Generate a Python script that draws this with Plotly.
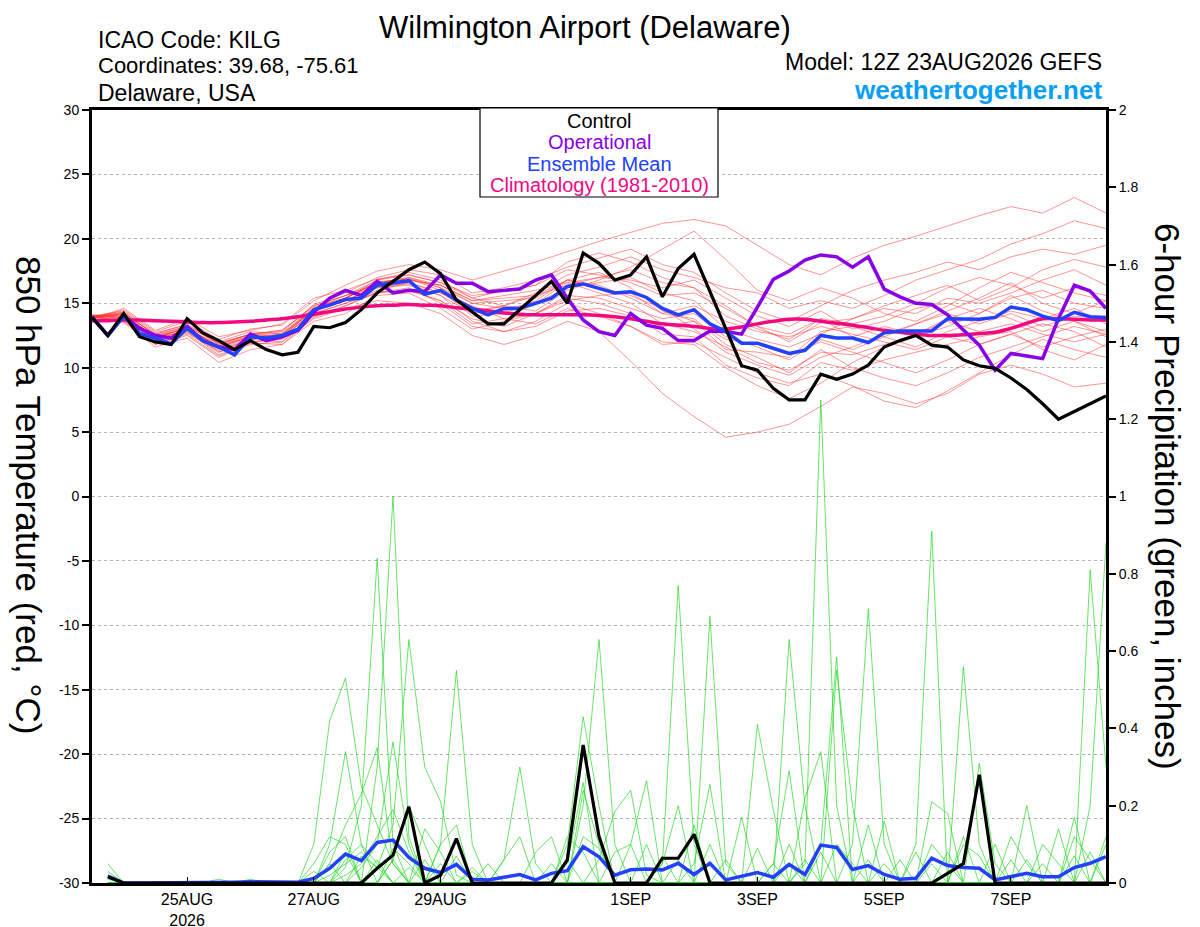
import pandas as pd
import plotly.graph_objects as go

# ---------------- DATA ----------------
base_time = "2026-08-23 12:00"
hours6 = list(range(0, 385, 6))        # temperature, 6-hourly
hours12 = list(range(0, 385, 12))      # ensemble members, 12-hourly
hours_p = list(range(6, 385, 6))       # 6-hour precip accumulations

control_t = [13.9, 12.5, 14.2, 12.4, 12.0, 11.8, 13.8, 12.7, 12.1, 11.4, 12.1, 11.4, 11.0, 11.2, 13.2, 13.1,
             13.5, 14.5, 15.8, 16.7, 17.6, 18.2, 17.3,
             15.25, 14.3, 13.4, 13.4, 14.5, 15.6, 16.7, 15.0, 18.9, 18.1, 16.8, 17.2, 18.6, 15.5, 17.7, 18.8,
             15.9, 13.0, 10.15, 9.8, 8.4, 7.5,
             7.5, 9.5, 9.1, 9.5, 10.2, 11.6, 12.1, 12.5, 11.75, 11.6, 10.6, 10.15, 9.95, 9.2, 8.3, 7.2, 6.0,
             6.6, 7.2, 7.8]

operational_t = [13.9, 12.5, 14.0, 13.05, 12.5, 12.3, 13.2, 12.1, 11.6, 11.4, 12.6, 12.1, 12.4, 12.9, 14.3,
                 15.4, 16.0, 15.6, 16.7, 15.8, 16.0, 15.9, 17.2,
                 16.55, 16.55, 15.9, 16.0, 16.1, 16.8, 17.2, 15.4, 13.7, 12.8, 12.5, 14.2, 13.3, 13.05, 12.1,
                 12.1, 12.85, 12.8, 12.6, 14.7, 16.85, 17.5,
                 18.35, 18.75, 18.6, 17.8, 18.6, 16.1, 15.5, 15.0, 14.9, 14.1, 12.9, 11.75, 9.8, 11.1, 10.9,
                 10.7, 13.8, 16.4, 15.95, 14.6]

mean_t = [13.95, 12.5, 14.0, 12.65, 12.3, 11.85, 13.05, 12.1, 11.6, 11.0, 12.4, 12.3, 12.5, 13.0, 14.5, 14.85,
          15.3, 15.4, 16.4, 16.6, 16.75, 15.7, 16.0,
          15.25, 14.6, 14.1, 14.6, 14.6, 15.0, 15.4, 16.3, 16.5, 16.15, 15.8, 15.9, 15.45, 14.6, 14.1, 14.5,
          13.4, 12.8, 11.9, 11.9, 11.5, 11.1,
          11.35, 12.5, 12.3, 12.3, 11.95, 12.7, 12.85, 12.85, 12.85, 13.8, 13.8, 13.75, 13.9, 14.7, 14.5,
          14.0, 13.65, 14.3, 13.95, 13.9]

climo_t = [13.65, 13.65, 13.7, 13.7, 13.65, 13.6, 13.55, 13.5, 13.5, 13.55, 13.6, 13.7, 13.8, 13.95, 14.15,
           14.35, 14.55, 14.7, 14.8, 14.85, 14.9,
           14.85, 14.8, 14.65, 14.55, 14.4, 14.25, 14.15, 14.1, 14.1, 14.1, 14.1, 14.05, 13.95, 13.8, 13.6,
           13.4, 13.3, 13.2, 13.05, 13.0, 13.15, 13.4, 13.6, 13.75,
           13.75, 13.6, 13.45, 13.3, 13.1, 12.9, 12.75, 12.6, 12.5, 12.5, 12.55, 12.65, 12.75, 13.05, 13.45,
           13.8, 13.8, 13.75, 13.7, 13.7]

members_t = [
    [13.8, 14.5, 12.8, 13.6, 12.2, 13.0, 13.3, 15.2, 16.4, 17.5, 18.0, 17.6, 16.8, 17.5, 18.2, 19.0, 19.8, 20.5, 21.2, 21.5, 21.0, 19.5, 18.0, 17.2, 18.5, 19.5, 20.2, 21.0, 21.8, 22.5, 22.0, 23.2, 22.0],
    [14.0, 13.6, 11.8, 12.5, 10.8, 11.8, 12.0, 13.8, 14.6, 15.2, 15.0, 14.2, 12.5, 11.8, 12.5, 13.6, 12.8, 10.5, 8.0, 6.2, 4.6, 5.0, 5.6, 7.0, 8.5, 8.0, 7.2, 8.0, 9.5, 10.2, 9.5, 8.5, 8.8],
    [13.9, 14.3, 12.5, 13.2, 11.9, 12.6, 12.8, 14.9, 15.8, 17.0, 17.6, 17.2, 15.8, 16.2, 16.8, 17.8, 18.5, 19.2, 18.0, 17.4, 15.8, 14.4, 13.6, 14.8, 16.0, 16.8, 17.4, 18.2, 17.6, 18.6, 19.2, 18.8, 19.5],
    [14.1, 13.8, 12.0, 12.7, 11.2, 12.0, 12.2, 14.0, 14.8, 15.8, 16.2, 15.0, 13.2, 12.8, 13.6, 15.0, 14.2, 13.2, 11.8, 12.0, 10.8, 9.6, 8.8, 9.5, 8.6, 7.4, 6.9, 8.2, 9.6, 11.0, 12.2, 11.4, 10.8],
    [13.8, 14.6, 12.9, 13.8, 12.4, 12.9, 13.4, 15.4, 16.0, 16.9, 17.2, 16.6, 15.6, 15.9, 16.4, 18.2, 18.9, 18.2, 17.0, 16.2, 14.8, 13.2, 12.0, 13.5, 13.8, 14.8, 15.6, 16.4, 15.2, 16.2, 17.6, 18.4, 17.8],
    [14.0, 13.5, 11.6, 12.3, 10.4, 11.4, 11.8, 13.6, 14.2, 15.6, 15.8, 14.6, 13.0, 13.6, 14.2, 15.4, 15.0, 14.2, 12.6, 12.4, 10.2, 9.2, 8.6, 10.4, 9.8, 10.6, 11.2, 11.8, 12.4, 12.8, 11.4, 10.6, 11.8],
    [13.9, 14.2, 12.6, 13.4, 11.8, 12.6, 12.9, 14.8, 15.6, 16.8, 17.4, 16.8, 15.4, 14.8, 14.4, 16.0, 16.8, 17.8, 19.2, 20.6, 18.4, 16.0, 15.2, 16.2, 15.4, 14.2, 13.6, 14.8, 16.2, 17.4, 16.6, 15.8, 15.2],
    [14.0, 14.0, 12.2, 12.9, 11.5, 12.3, 12.3, 14.3, 15.4, 16.6, 16.9, 16.0, 14.0, 14.2, 15.2, 16.8, 17.4, 16.2, 14.4, 13.6, 11.4, 11.2, 10.8, 12.8, 13.2, 12.4, 11.6, 12.8, 13.6, 14.4, 13.8, 14.6, 13.4],
    [13.9, 13.7, 11.9, 12.6, 10.9, 11.9, 12.4, 14.2, 15.0, 16.0, 16.6, 15.8, 14.8, 13.8, 13.4, 14.6, 14.0, 13.2, 12.0, 11.8, 10.0, 8.6, 7.6, 8.8, 10.4, 11.6, 12.6, 13.6, 12.8, 13.4, 12.6, 12.0, 12.6],
    [14.0, 14.4, 12.7, 13.3, 12.0, 12.8, 12.6, 14.6, 15.6, 16.2, 16.4, 15.6, 14.2, 14.8, 15.8, 17.2, 17.8, 18.6, 17.6, 17.0, 16.2, 15.8, 14.6, 15.2, 14.6, 15.6, 16.8, 17.6, 18.4, 19.6, 20.4, 21.4, 20.8],
    [13.9, 14.1, 12.4, 12.8, 11.3, 12.2, 12.5, 14.4, 15.2, 16.4, 16.8, 16.4, 15.2, 15.6, 16.0, 16.6, 15.8, 15.0, 13.4, 12.8, 11.6, 10.4, 9.8, 11.2, 11.0, 11.8, 12.4, 13.2, 14.2, 15.6, 14.4, 13.6, 12.4],
    [14.1, 13.9, 12.1, 13.0, 11.7, 12.5, 12.7, 14.7, 15.4, 16.6, 17.0, 16.2, 14.6, 14.4, 15.0, 16.2, 16.6, 17.0, 15.8, 15.2, 13.0, 12.2, 11.6, 12.6, 13.8, 14.6, 14.2, 15.4, 15.0, 15.8, 16.8, 17.6, 16.4],
    [13.8, 14.2, 12.3, 13.1, 11.6, 12.4, 12.3, 14.4, 15.2, 16.3, 16.5, 15.6, 13.6, 12.8, 13.2, 14.4, 14.6, 14.0, 13.2, 13.6, 12.2, 11.8, 11.0, 12.0, 11.2, 10.4, 9.6, 10.6, 11.8, 12.6, 13.4, 12.8, 11.6],
    [14.0, 14.0, 12.4, 13.0, 11.8, 12.6, 12.4, 14.6, 15.4, 16.8, 17.2, 16.6, 15.4, 16.0, 16.4, 17.6, 17.2, 16.6, 15.6, 15.8, 14.6, 13.2, 12.6, 13.8, 13.4, 14.0, 15.0, 16.2, 17.0, 16.4, 15.4, 16.2, 15.6],
    [13.9, 13.8, 12.2, 13.2, 11.4, 12.2, 12.0, 14.2, 15.0, 15.8, 16.0, 15.2, 13.8, 13.2, 14.2, 15.2, 15.6, 15.8, 14.2, 14.8, 13.6, 12.8, 12.4, 13.2, 12.6, 12.0, 11.4, 12.4, 11.8, 12.6, 11.6, 12.4, 13.0],
    [14.0, 14.2, 12.6, 13.2, 11.9, 12.6, 12.9, 14.8, 15.6, 16.6, 16.8, 16.4, 15.0, 14.6, 15.0, 16.6, 17.0, 16.8, 16.2, 16.8, 15.4, 14.0, 13.2, 14.4, 13.0, 13.6, 14.6, 15.0, 14.2, 15.4, 16.0, 15.0, 14.6],
    [13.9, 13.9, 12.0, 13.0, 11.2, 12.2, 12.6, 14.4, 15.2, 16.2, 16.6, 15.8, 14.4, 14.8, 15.6, 16.8, 16.2, 15.6, 14.6, 13.0, 11.2, 10.2, 9.4, 10.8, 11.6, 12.6, 13.4, 14.4, 15.4, 16.6, 15.0, 14.2, 15.2],
    [14.0, 14.3, 12.5, 13.0, 11.7, 12.4, 12.5, 14.5, 15.4, 16.6, 17.0, 16.4, 15.2, 15.4, 15.6, 16.4, 17.0, 17.6, 16.6, 16.2, 14.0, 13.0, 12.2, 13.8, 12.4, 13.2, 12.6, 13.8, 14.6, 13.8, 12.8, 13.6, 12.8],
    [13.9, 13.6, 11.8, 12.8, 11.0, 11.9, 11.8, 13.9, 14.8, 15.9, 16.0, 15.2, 13.4, 13.8, 14.2, 15.6, 15.4, 14.6, 13.8, 14.2, 12.4, 11.6, 10.6, 12.2, 11.4, 12.4, 13.4, 14.2, 13.4, 14.2, 13.2, 14.0, 13.8],
    [14.0, 14.1, 12.4, 13.1, 11.6, 12.4, 12.6, 14.6, 15.4, 16.6, 16.9, 16.2, 15.0, 15.2, 15.4, 16.8, 16.4, 15.4, 14.2, 13.8, 11.8, 10.8, 9.6, 11.4, 10.0, 9.2, 8.6, 9.6, 10.8, 11.6, 12.4, 13.2, 12.6],
]

control_p = [0.016, 0, 0, 0, 0, 0, 0, 0,
             0, 0, 0, 0, 0, 0, 0, 0,
             0, 0.038, 0.072, 0.197, 0, 0.02, 0.115, 0,
             0, 0, 0, 0, 0, 0.06, 0.357, 0.12,
             0, 0, 0, 0.064, 0.064, 0.126, 0, 0,
             0, 0, 0, 0, 0, 0, 0, 0,
             0, 0, 0, 0, 0, 0.025, 0.05, 0.28,
             0, 0, 0, 0, 0, 0, 0, 0]

mean_p = [0.018, 0, 0, 0, 0, 0, 0, 0.002,
          0.002, 0.003, 0.002, 0.001, 0.002, 0.012, 0.038, 0.075,
          0.058, 0.105, 0.111, 0.066, 0.038, 0.027, 0.048, 0.01,
          0.008, 0.015, 0.022, 0.008, 0.025, 0.032, 0.094, 0.068,
          0.02, 0.034, 0.036, 0.034, 0.051, 0.022, 0.051, 0.008,
          0.017, 0.027, 0.015, 0.048, 0.022, 0.098, 0.092, 0.035,
          0.045, 0.022, 0.01, 0.012, 0.064, 0.045, 0.04, 0.038,
          0.008, 0.016, 0.025, 0.016, 0.016, 0.04, 0.051, 0.068]

members_p = [
    [0.05, 0, 0, 0, 0, 0, 0, 0,  0, 0, 0, 0, 0, 0.10, 0.42, 0.53,  0.25, 0.15, 0.05, 0, 0, 0, 0, 0,
     0, 0, 0, 0, 0, 0.10, 0.43, 0.20,  0, 0, 0, 0, 0, 0, 0, 0,  0, 0, 0, 0.63, 0.20, 0, 0, 0,
     0, 0, 0, 0, 0, 0, 0.56, 0.10,  0, 0, 0, 0, 0, 0, 0.81, 0.30],
    [0.03, 0, 0, 0, 0, 0, 0, 0,  0, 0, 0, 0, 0, 0, 0, 0,  0, 0.30, 1.00, 0.12, 0, 0, 0, 0,
     0, 0, 0, 0, 0, 0, 0, 0,  0, 0, 0, 0.05, 0.77, 0.10, 0, 0,  0, 0, 0, 0, 0.05, 1.25, 0.20, 0,
     0, 0, 0, 0, 0.10, 0.05, 0, 0,  0, 0, 0, 0, 0, 0, 0.20, 0.88],
    [0.02, 0, 0, 0, 0, 0, 0, 0,  0, 0, 0, 0, 0, 0, 0, 0.04,  0.20, 0.84, 0.10, 0, 0, 0, 0, 0,
     0, 0, 0, 0, 0, 0, 0.20, 0.63,  0.10, 0, 0, 0, 0, 0, 0.69, 0.05,  0, 0, 0, 0, 0, 0, 0, 0.10,
     0.71, 0.10, 0, 0, 0, 0, 0, 0,  0, 0, 0, 0, 0, 0.17, 0, 0],
    [0, 0, 0, 0, 0, 0, 0, 0,  0, 0, 0, 0, 0, 0, 0.02, 0.05,  0.08, 0.04, 0.15, 0.63, 0.30, 0.21, 0.02, 0,
     0, 0.06, 0.30, 0.05, 0, 0, 0, 0,  0, 0, 0, 0, 0, 0, 0, 0,  0, 0.41, 0.19, 0, 0, 0, 0, 0,
     0, 0, 0, 0.10, 0.91, 0, 0, 0,  0, 0, 0.20, 0, 0, 0, 0, 0],
    [0.01, 0, 0, 0, 0, 0, 0, 0,  0, 0, 0, 0, 0, 0, 0.10, 0.34,  0.10, 0, 0, 0, 0, 0.10, 0.55, 0.10,
     0, 0, 0, 0, 0, 0, 0, 0,  0, 0.10, 0.265, 0, 0, 0, 0, 0,  0, 0, 0, 0, 0, 0.10, 0.585, 0,
     0, 0, 0, 0, 0, 0, 0, 0.31,  0.05, 0, 0, 0, 0, 0, 0, 0],
    [0, 0, 0, 0, 0, 0, 0, 0,  0, 0, 0, 0, 0, 0, 0, 0,  0.04, 0.10, 0.365, 0.10, 0, 0, 0, 0,
     0, 0, 0, 0, 0, 0, 0, 0.06,  0.185, 0.24, 0.02, 0, 0, 0, 0, 0,  0, 0, 0.05, 0.29, 0, 0, 0.55, 0.20,
     0, 0, 0, 0, 0, 0, 0, 0,  0, 0.12, 0.05, 0, 0, 0, 0, 0],
    [0, 0, 0, 0, 0, 0, 0, 0,  0, 0, 0, 0, 0, 0, 0.05, 0.15,  0.23, 0.35, 0.05, 0, 0, 0, 0, 0,
     0, 0, 0, 0, 0, 0.05, 0.26, 0,  0, 0, 0, 0, 0, 0.05, 0.255, 0,  0, 0, 0, 0, 0.22, 0.34, 0, 0,
     0, 0, 0, 0, 0, 0, 0, 0,  0, 0, 0, 0.10, 0.05, 0, 0, 0],
    [0, 0, 0, 0, 0, 0, 0, 0,  0, 0, 0, 0, 0, 0.05, 0.12, 0.10,  0, 0, 0.06, 0.20, 0.10, 0, 0, 0,
     0, 0, 0, 0, 0, 0, 0.24, 0.10,  0, 0, 0, 0.05, 0.20, 0, 0, 0,  0.17, 0, 0, 0, 0, 0, 0, 0,
     0, 0.16, 0, 0, 0.21, 0.18, 0, 0,  0, 0, 0, 0, 0, 0, 0, 0],
    [0, 0, 0, 0, 0, 0, 0, 0,  0, 0, 0, 0, 0, 0, 0, 0.02,  0.05, 0.12, 0.19, 0.08, 0, 0.10, 0.15, 0,
     0, 0, 0, 0.08, 0.12, 0, 0, 0,  0, 0, 0.10, 0, 0, 0, 0, 0,  0, 0, 0, 0.10, 0, 0, 0, 0,
     0.15, 0, 0, 0, 0, 0, 0.12, 0,  0, 0, 0, 0, 0, 0.12, 0.06, 0],
    [0, 0, 0, 0, 0, 0, 0, 0,  0, 0, 0, 0, 0, 0, 0, 0.06,  0.10, 0.05, 0, 0, 0.14, 0.08, 0, 0,
     0.05, 0, 0, 0, 0, 0.12, 0.08, 0,  0, 0, 0, 0, 0, 0.15, 0, 0,  0, 0, 0, 0, 0, 0.08, 0, 0,
     0, 0, 0.06, 0, 0, 0, 0, 0,  0.10, 0, 0, 0, 0.14, 0, 0, 0],
    [0, 0, 0, 0, 0, 0, 0, 0,  0, 0, 0, 0, 0, 0, 0.08, 0.12,  0, 0, 0.09, 0.05, 0, 0, 0, 0,
     0, 0.06, 0.12, 0, 0, 0, 0, 0,  0.08, 0.10, 0, 0, 0, 0, 0, 0.06,  0, 0, 0, 0, 0, 0, 0.10, 0.05,
     0, 0, 0, 0.08, 0, 0, 0, 0,  0, 0.06, 0, 0, 0, 0, 0, 0.12],
    [0, 0, 0, 0, 0, 0, 0, 0,  0, 0, 0, 0, 0, 0, 0, 0,  0.07, 0.04, 0, 0, 0.06, 0, 0, 0.04,
     0, 0, 0, 0, 0.05, 0, 0, 0,  0, 0, 0, 0.07, 0, 0, 0, 0,  0, 0.09, 0, 0, 0.06, 0, 0, 0,
     0, 0.05, 0, 0, 0, 0.08, 0, 0,  0, 0, 0, 0.05, 0, 0.07, 0, 0],
    [0.02, 0, 0, 0, 0, 0, 0, 0,  0, 0.01, 0, 0, 0, 0, 0.05, 0,  0, 0, 0.06, 0, 0, 0, 0.07, 0,
     0, 0, 0, 0, 0, 0, 0.12, 0.09,  0, 0, 0, 0, 0, 0, 0.10, 0,  0, 0, 0.05, 0, 0, 0, 0, 0,
     0.06, 0, 0, 0, 0, 0, 0.10, 0.07,  0, 0, 0, 0, 0, 0, 0.08, 0],
    [0, 0, 0, 0, 0, 0, 0, 0.01,  0, 0, 0, 0, 0, 0.03, 0, 0.08,  0, 0.06, 0, 0.04, 0, 0.05, 0, 0.03,
     0, 0, 0, 0, 0, 0.06, 0, 0,  0, 0, 0, 0, 0.06, 0, 0, 0,  0, 0, 0, 0.05, 0, 0, 0, 0,
     0, 0, 0, 0, 0.05, 0, 0, 0,  0, 0, 0.06, 0, 0, 0, 0, 0.10],
]

temp_ticks = [30, 25, 20, 15, 10, 5, 0, -5, -10, -15, -20, -25, -30]
precip_ticks = [2, 1.8, 1.6, 1.4, 1.2, 1, 0.8, 0.6, 0.4, 0.2, 0]
precip_tick_text = ["2", "1.8", "1.6", "1.4", "1.2", "1", "0.8", "0.6", "0.4", "0.2", "0"]
date_ticks = ["2026-08-25", "2026-08-27", "2026-08-29", "2026-09-01", "2026-09-03", "2026-09-05", "2026-09-07"]
date_tick_text = ["25AUG<br>2026", "27AUG", "29AUG", "1SEP", "3SEP", "5SEP", "7SEP"]
legend_items = ["Control", "Operational", "Ensemble Mean", "Climatology (1981-2010)"]

# ---------------- FIGURE ----------------
t0 = pd.Timestamp(base_time)
def times(hrs):
    return [t0 + pd.Timedelta(hours=h) for h in hrs]

x6, x12, xp = times(hours6), times(hours12), times(hours_p)

FONT = "Liberation Sans, Arial, Helvetica, sans-serif"
RED = "rgba(255,50,50,0.65)"
GREEN = "rgba(30,215,30,0.85)"
PURPLE = "#8a00e6"
BLUE = "#2240ff"
PINK = "#f2087f"

fig = go.Figure()

for m in members_t:
    fig.add_trace(go.Scatter(x=x12, y=m, mode="lines", line=dict(color=RED, width=0.8),
                             hoverinfo="skip", yaxis="y"))
fig.add_trace(go.Scatter(x=x6, y=climo_t, mode="lines", line=dict(color=PINK, width=3.5, shape="spline"),
                         yaxis="y", name=legend_items[3]))
fig.add_trace(go.Scatter(x=x6, y=operational_t, mode="lines", line=dict(color=PURPLE, width=3.5),
                         yaxis="y", name=legend_items[1]))
fig.add_trace(go.Scatter(x=x6, y=mean_t, mode="lines", line=dict(color=BLUE, width=3.5),
                         yaxis="y", name=legend_items[2]))
fig.add_trace(go.Scatter(x=x6, y=control_t, mode="lines", line=dict(color="black", width=3.2),
                         yaxis="y", name=legend_items[0]))

for m in members_p:
    fig.add_trace(go.Scatter(x=xp, y=m, mode="lines", line=dict(color=GREEN, width=0.8),
                             hoverinfo="skip", yaxis="y2"))
fig.add_trace(go.Scatter(x=xp, y=mean_p, mode="lines", line=dict(color=BLUE, width=3.5), yaxis="y2"))
fig.add_trace(go.Scatter(x=xp, y=control_p, mode="lines", line=dict(color="black", width=3.2), yaxis="y2"))

# plot area in screen pixels (the page body adds an 8 px offset)
OFF = 8
L, R, T, B = 92, 1106, 110, 883
W, H = R - L, B - T
FIG_W, FIG_H = 1200, 927
def px(xp_):
    return (xp_ - L) / W
def py(yp_):
    return (B - yp_) / H

ann = []
def add_text(text, x, y, size, color="black", xanchor="left", yanchor="middle", angle=0, bold=False):
    if bold:
        text = "<b>" + text + "</b>"
    ann.append(dict(text=text, x=px(x), y=py(y), xref="paper", yref="paper", xanchor=xanchor,
                    yanchor=yanchor, showarrow=False, textangle=angle, borderpad=0,
                    font=dict(family=FONT, size=size, color=color)))

add_text("Wilmington Airport (Delaware)", 585, OFF + 1, 31, xanchor="center", yanchor="top")
add_text("ICAO Code: KILG", 97, 40, 23)
add_text("Coordinates: 39.68, -75.61", 97, 66, 22)
add_text("Delaware, USA", 97, 93, 23)
add_text("Model: 12Z 23AUG2026 GEFS", 1103, 62, 23, xanchor="right")
add_text("weathertogether.net", 1103, 90, 26, color="#0a9ef5", xanchor="right", bold=True)
add_text("850 hPa Temperature (red, °C)", 29, 495, 35, xanchor="center", angle=90)
add_text("6-hour Precipitation (green, inches)", 1168, 496, 35, xanchor="center", angle=90)

legend_colors = ["black", PURPLE, BLUE, PINK]
for k, (txt, col) in enumerate(zip(legend_items, legend_colors)):
    add_text(txt, 599, 121 + k * 21.3, 20, color=col, xanchor="center")

fig.update_layout(
    width=FIG_W, height=FIG_H,
    margin=dict(l=L - OFF, r=FIG_W - (R - OFF), t=T - OFF, b=FIG_H - (B - OFF), autoexpand=False),
    paper_bgcolor="white", plot_bgcolor="white",
    showlegend=False,
    font=dict(family=FONT, color="black"),
    annotations=ann,
    shapes=[dict(type="rect", xref="paper", yref="paper", x0=px(480), x1=px(718), y0=py(197), y1=py(108),
                 line=dict(color="black", width=1.2), fillcolor="white", layer="above")],
    xaxis=dict(type="date", range=[t0, t0 + pd.Timedelta(hours=384)], automargin=False,
               tickvals=date_ticks, ticktext=date_tick_text, ticks="inside", ticklen=6, tickwidth=1,
               tickcolor="black", showgrid=False, showline=True, linewidth=3, linecolor="black",
               mirror=True, tickfont=dict(size=16, family=FONT, color="black"), zeroline=False),
    yaxis=dict(range=[-30, 30], tickvals=temp_ticks, ticktext=[str(v) for v in temp_ticks], automargin=False,
               ticks="outside", ticklen=7, tickwidth=1.5, tickcolor="black",
               showgrid=True, gridcolor="#b4b4b4", griddash="dot", gridwidth=1,
               showline=True, linewidth=3, linecolor="black", zeroline=False,
               tickfont=dict(size=14, family=FONT, color="black")),
    yaxis2=dict(range=[0, 2], overlaying="y", side="right", tickvals=precip_ticks, ticktext=precip_tick_text,
                automargin=False, ticks="outside", ticklen=7, tickwidth=1.5, tickcolor="black", showgrid=False,
                showline=True, linewidth=3, linecolor="black", zeroline=False,
                tickfont=dict(size=14, family=FONT, color="black")),
)

fig.write_html("out.html")
